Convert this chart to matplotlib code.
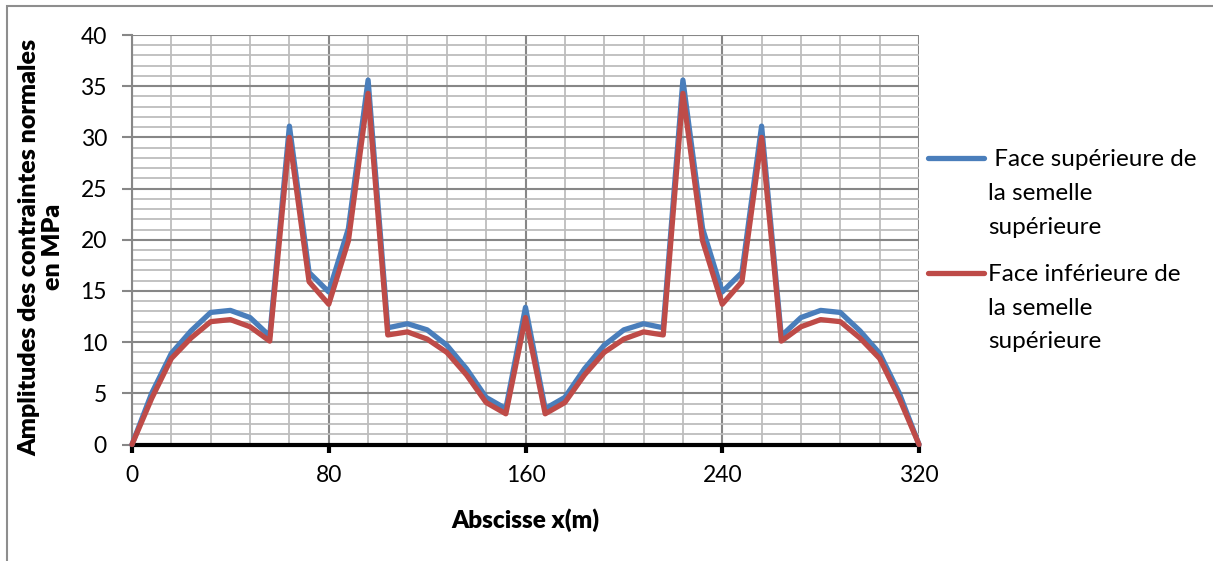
import matplotlib
matplotlib.use("Agg")
import matplotlib.pyplot as plt
from matplotlib.lines import Line2D
from matplotlib.patches import Rectangle
from matplotlib.ticker import MultipleLocator

plt.rcParams['font.family'] = ['Lato', 'DejaVu Sans']

x = [0, 8, 16, 24, 32, 40, 48, 56, 64, 72, 80, 88, 96, 104, 112, 120, 128, 136, 144, 152,
     160, 168, 176, 184, 192, 200, 208, 216, 224, 232, 240, 248, 256, 264, 272, 280, 288,
     296, 304, 312, 320]
face_sup = [0, 5.0, 8.9, 11.1, 12.9, 13.1, 12.4, 10.6, 31.1, 16.8, 14.9, 21.1, 35.6, 11.4,
            11.8, 11.2, 9.7, 7.4, 4.6, 3.5, 13.4, 3.5, 4.6, 7.4, 9.7, 11.2, 11.8, 11.4, 35.6,
            21.1, 14.9, 16.8, 31.1, 10.6, 12.4, 13.1, 12.9, 11.1, 8.9, 5.0, 0]
face_inf = [0, 4.5, 8.4, 10.4, 12.0, 12.2, 11.5, 10.1, 30.0, 15.9, 13.7, 19.9, 34.3, 10.7,
            11.0, 10.3, 9.0, 6.8, 4.1, 3.0, 12.4, 3.0, 4.1, 6.8, 9.0, 10.3, 11.0, 10.7, 34.3,
            19.9, 13.7, 15.9, 30.0, 10.1, 11.5, 12.2, 12.0, 10.4, 8.4, 4.5, 0]
labels = [" Face supérieure de\nla semelle\nsupérieure",
          "Face inférieure de\nla semelle\nsupérieure"]
colors = ['#4a7ebb', '#be4b48']

W, H = 1213, 561
fig = plt.figure(figsize=(W / 100, H / 100), dpi=100)
ax = fig.add_axes([132 / W, 1 - 444.5 / H, (919 - 132) / W, (444.5 - 35) / H])

# outer chart border (only left and top visible in the crop)
fig.patches.append(Rectangle((7 / W, -0.1), 1.2, 1.1 - 6 / H, transform=fig.transFigure,
                             fill=False, edgecolor='#8e8e8e', linewidth=1.5))

ax.set_xlim(0, 320)
ax.set_ylim(0, 40)
ax.xaxis.set_major_locator(MultipleLocator(80))
ax.xaxis.set_minor_locator(MultipleLocator(16))
ax.yaxis.set_major_locator(MultipleLocator(5))
ax.yaxis.set_minor_locator(MultipleLocator(1))

ax.grid(which='minor', color='#bdbdbd', linewidth=1.3)
ax.grid(which='major', color='#878787', linewidth=1.5)
ax.set_axisbelow(True)

for s in ['top', 'right']:
    ax.spines[s].set_visible(False)
ax.spines['left'].set_color('#878787')
ax.spines['left'].set_linewidth(1.5)
ax.spines['bottom'].set_color('black')
ax.spines['bottom'].set_linewidth(3)

ax.tick_params(axis='x', which='major', length=6, width=3, color='black', pad=9,
               labelsize=16.5)
ax.tick_params(axis='y', which='major', length=7, width=1.5, color='#878787', pad=11,
               labelsize=16.5)
ax.tick_params(which='minor', length=0)

for ys, c in zip([face_sup, face_inf], colors):
    ax.plot(x, ys, color=c, linewidth=3.8, solid_joinstyle='round',
            solid_capstyle='round', clip_on=False, zorder=3)

fig.text(525.5 / W, 1 - 520 / H, "Abscisse x(m)", ha='center', va='center',
         fontsize=17.5, fontweight='heavy')
fig.text(41 / W, 1 - 247 / H, "Amplitudes des contraintes normales\nen MPa", rotation=90,
         ha='center', va='center', multialignment='center', fontsize=18,
         fontweight='heavy', linespacing=1.1)

# legend drawn by hand so the key sits on the first text line
for i, (lab, c) in enumerate(zip(labels, colors)):
    y0 = 158 + i * 115
    fig.add_artist(Line2D([928 / W, 984 / W], [1 - y0 / H, 1 - y0 / H], color=c,
                          linewidth=3.8, solid_capstyle='round'))
    for j, line in enumerate(lab.split('\n')):
        fig.text(988 / W, 1 - (y0 + j * 33.5) / H, line, ha='left', va='center_baseline',
                 fontsize=17.5)

fig.savefig("out.png", dpi=100)
